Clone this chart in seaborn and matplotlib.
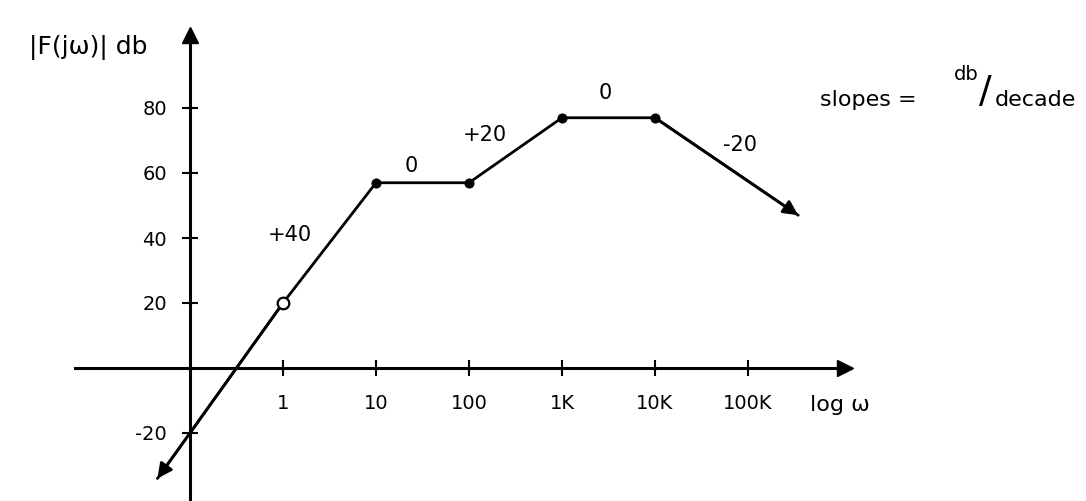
import pandas as pd
import seaborn as sns
import matplotlib.pyplot as plt

# asymptotic Bode magnitude, x in decades (log10 of omega)
log_w = [-1.35, 0, 1, 2, 3, 4, 5.54]
mag_db = [-34, 20, 57, 57, 77, 77, 47]
point_kind = ["end", "open", "break", "break", "break", "break", "end"]

x_ticks = [0, 1, 2, 3, 4, 5]
x_labels = ["1", "10", "100", "1K", "10K", "100K"]
y_ticks = [-20, 20, 40, 60, 80]
y_labels = ["-20", "20", "40", "60", "80"]

slope_labels = ["+40", "0", "+20", "0", "-20"]

curve = pd.DataFrame({"log_w": log_w, "mag_db": mag_db, "kind": point_kind})

sns.set_theme(style="white")
plt.rcParams["font.family"] = ["DejaVu Sans"]
plt.rcParams["text.color"] = "black"

W, H = 1086, 501
fig = plt.figure(figsize=(W / 100, H / 100), dpi=100)
ax = fig.add_axes([0, 0, 1, 1])

# pixel mapping of the sketch: "1" at x=283, 93 px per decade, 0 dB at y=368, 3.25 px/dB
x0, dec = 283, 93
y0, k = 368, 3.25
ax.set_xlim(-x0 / dec, (W - x0) / dec)
ax.set_ylim(-(H - y0) / k, y0 / k)

sns.lineplot(data=curve, x="log_w", y="mag_db", sort=False, estimator=None,
             color="black", lw=2, ax=ax)

brk = curve[curve["kind"] == "break"]
sns.scatterplot(data=brk, x="log_w", y="mag_db", color="black", s=45,
                edgecolor="black", zorder=5, ax=ax)
opn = curve[curve["kind"] == "open"]
ax.scatter(opn["log_w"], opn["mag_db"], s=70, facecolor="white",
           edgecolor="black", linewidth=1.6, zorder=5)

# arrowheads at both ends of the curve
for a, b in [(1, 0), (len(curve) - 2, len(curve) - 1)]:
    ax.annotate("", xy=(curve.log_w[b], curve.mag_db[b]),
                xytext=(curve.log_w[a], curve.mag_db[a]),
                arrowprops=dict(arrowstyle="-|>", mutation_scale=22, lw=2,
                                color="black", shrinkA=0, shrinkB=0))

# axes drawn as crossing spines with arrows
for s in ["top", "right"]:
    ax.spines[s].set_visible(False)
ax.spines["left"].set_position(("data", -1))
ax.spines["bottom"].set_position(("data", 0))
x_end = (845 - x0) / dec
y_top = (y0 - 35) / k
ax.spines["bottom"].set_bounds((75 - x0) / dec, x_end)
ax.spines["left"].set_bounds(-(H - y0) / k, y_top)
for s in ["left", "bottom"]:
    ax.spines[s].set_color("black")
    ax.spines[s].set_linewidth(2.2)
ax.plot(x_end, 0, marker=">", ms=11, color="black", clip_on=False)
ax.plot(-1, y_top, marker="^", ms=11, color="black", clip_on=False)

ax.set_xticks(x_ticks)
ax.set_xticklabels(x_labels)
ax.set_yticks(y_ticks)
ax.set_yticklabels(y_labels)
ax.tick_params(axis="both", direction="inout", length=11, width=1.5,
               colors="black", labelsize=14, bottom=True, left=True)
ax.tick_params(axis="x", pad=13)
ax.tick_params(axis="y", pad=11)
ax.set_xlabel("")
ax.set_ylabel("")
ax.grid(False)

# slope annotations
slope_pos = [(0.07, 41), (1.38, 62), (2.17, 71.7), (3.46, 84.6), (4.91, 68.6)]
for txt, (lx, ly) in zip(slope_labels, slope_pos):
    ax.text(lx, ly, txt, fontsize=15, ha="center", va="center", color="black")


def px(x, y):
    return x / W, 1 - y / H


fig.text(*px(88, 48), "|F(jω)| db", fontsize=18, ha="center", va="center")
fig.text(*px(840, 405), "log ω", fontsize=16, ha="center", va="center")
fig.text(*px(820, 100), "slopes =", fontsize=16, ha="left", va="center")
fig.text(*px(966, 74), "db", fontsize=14, ha="center", va="center")
fig.text(*px(985, 92), "/", fontsize=27, ha="center", va="center")
fig.text(*px(995, 100), "decade", fontsize=16, ha="left", va="center")

fig.savefig("out.png", dpi=100)
